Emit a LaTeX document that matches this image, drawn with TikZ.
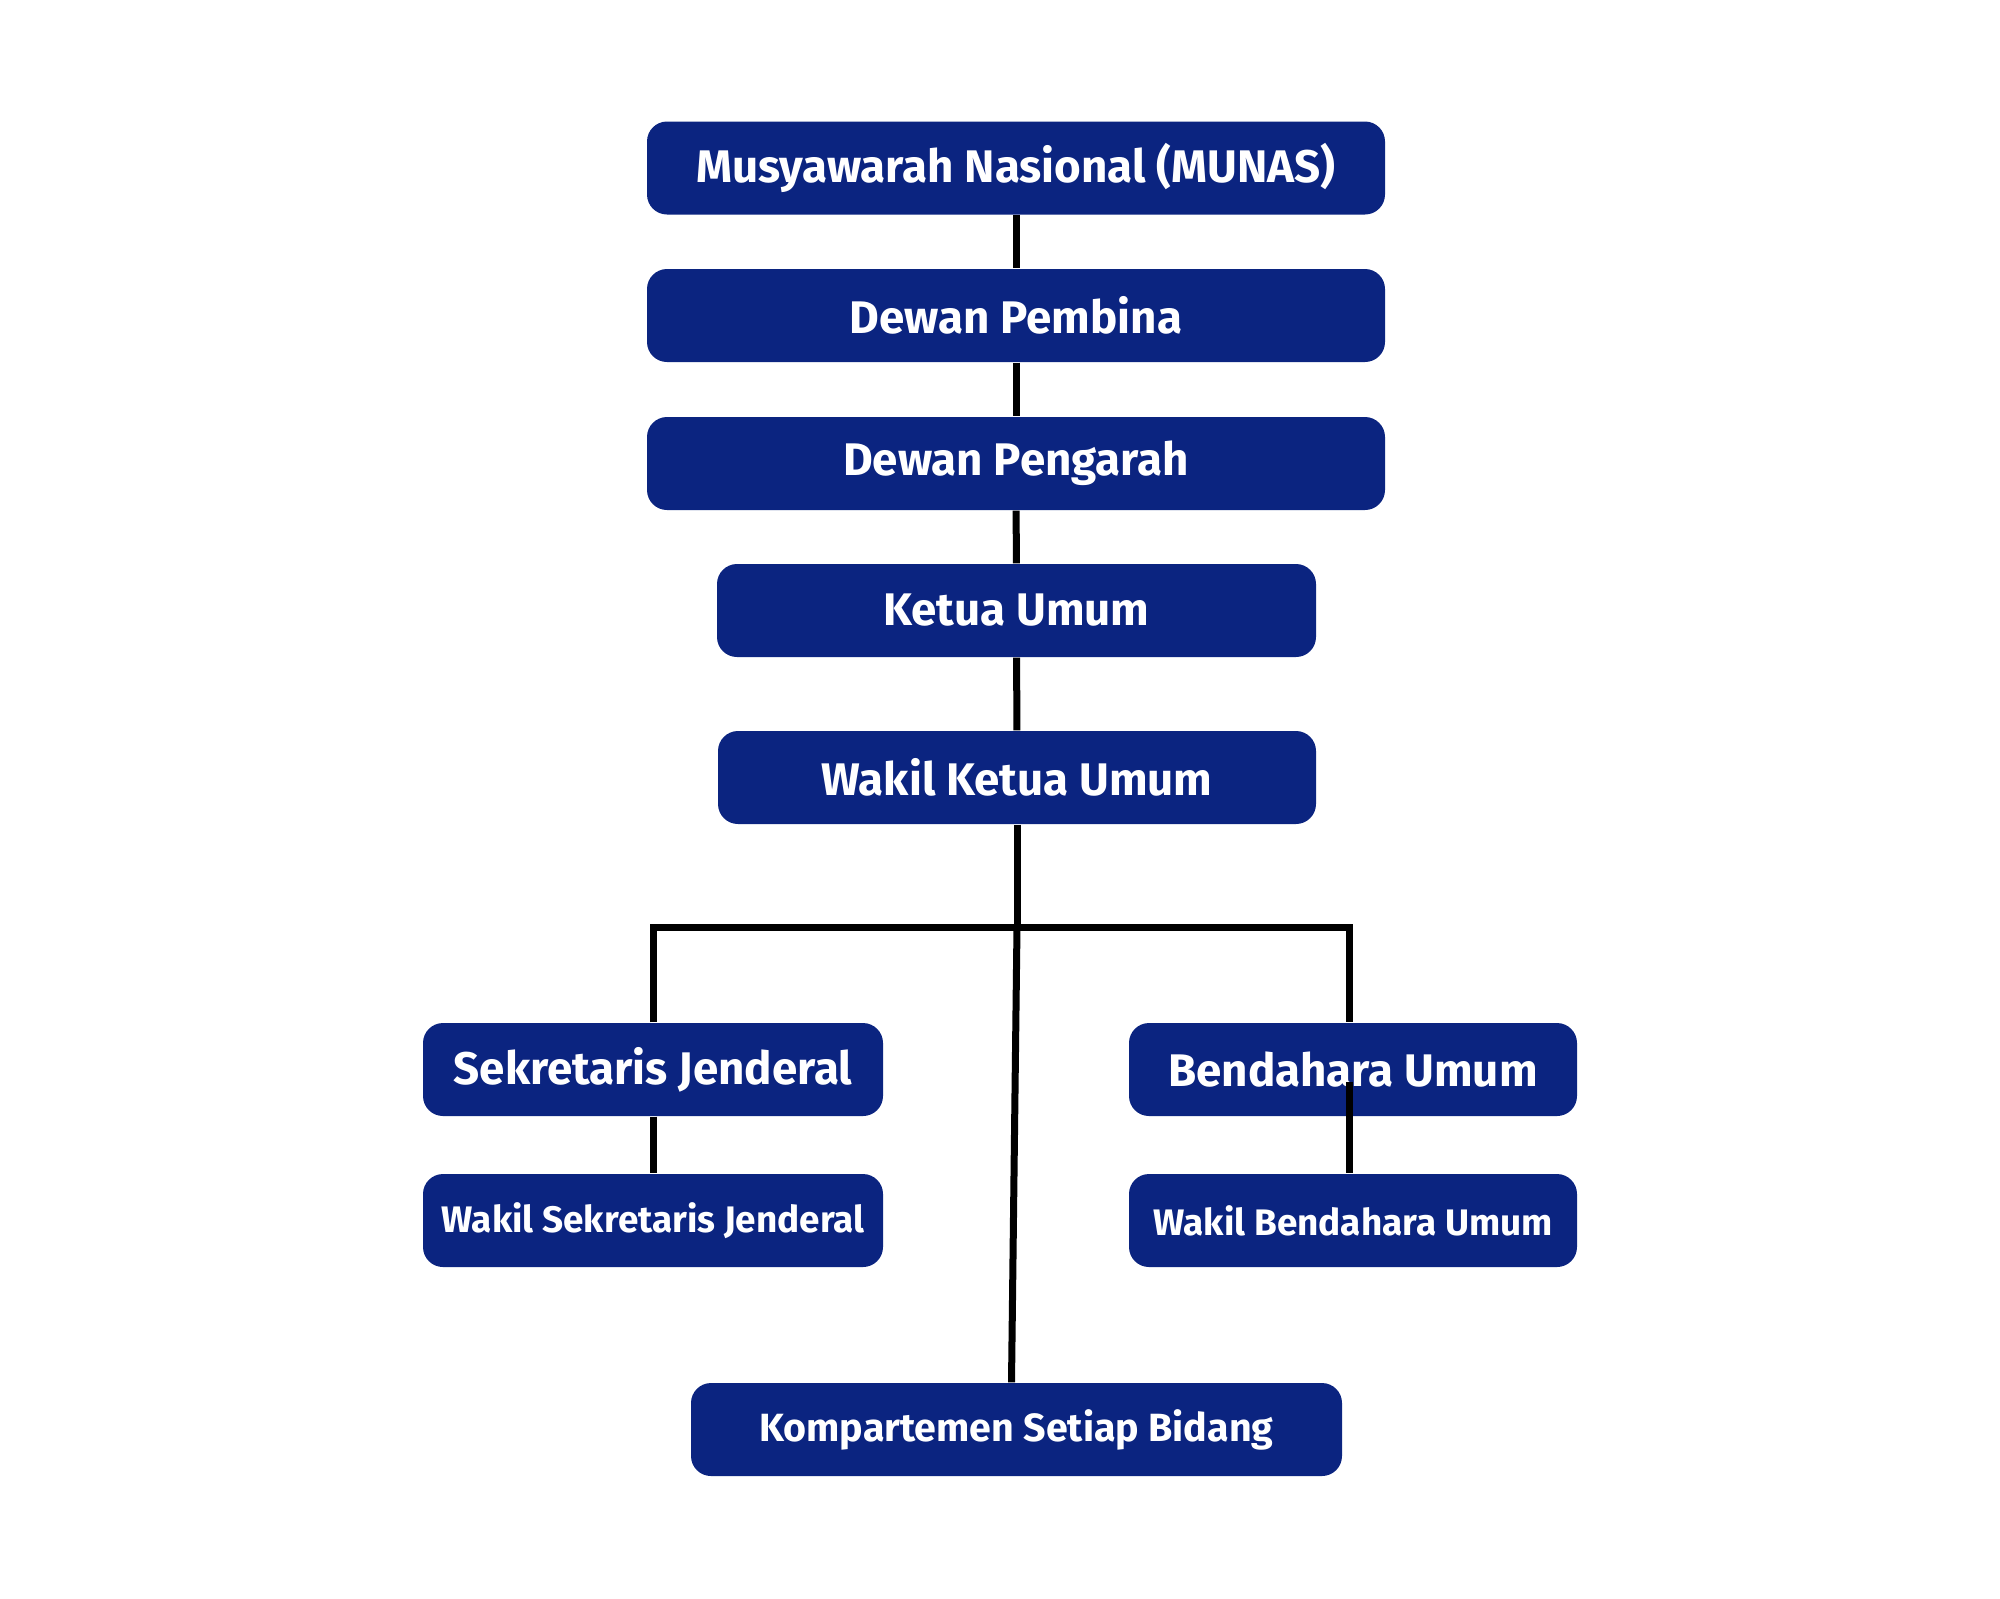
\documentclass[tikz,border=0pt]{standalone}
\usepackage{fontspec}
\setmainfont{Fira Sans}
\usepackage{tikz}
\usetikzlibrary{positioning, calc}
\definecolor{orgnavy}{RGB}{11,36,128}

\begin{document}
\begin{tikzpicture}[
  every node/.style = {font=\bfseries\fontsize{13}{15}\selectfont},
  orgbox/.style = {
    rectangle, rounded corners=0.2cm, fill=orgnavy, text=white,
    minimum width=#1, minimum height=0.93cm, inner sep=0pt,
    text centered, align=center
  },
  orgbox/.default = 7.38cm,
  link/.style = {line width=0.07cm, black}
]
\useasboundingbox (0,0) rectangle (20,-15.98);
%% ---- upper chain ----
\node[orgbox]        at (10.16,-1.68)  (munas)    {Musyawarah Nasional (MUNAS)};
\node[orgbox]        at (10.16,-3.155) (pembina)  {Dewan Pembina};
\node[orgbox]        at (10.16,-4.635) (pengarah) {Dewan Pengarah};
\node[orgbox=5.99cm] at (10.165,-6.105) (ketua)   {Ketua Umum};
\node[orgbox=5.98cm] at (10.17,-7.775) (waketum)  {Wakil Ketua Umum};
%% ---- branches ----
\node[orgbox=4.60cm, font=\bfseries\fontsize{13}{15}\selectfont]
      at (6.53,-10.695)  (sekjen)   {Sekretaris Jenderal};
\node[orgbox=4.48cm, font=\bfseries\fontsize{13}{15}\selectfont]
      at (13.53,-10.695) (bendum)   {Bendahara Umum};
\node[orgbox=4.60cm, font=\bfseries\fontsize{10.5}{12}\selectfont]
      at (6.53,-12.205)  (wasekjen) {Wakil Sekretaris Jenderal};
\node[orgbox=4.48cm, font=\bfseries\fontsize{10.5}{12}\selectfont]
      at (13.53,-12.205) (wabendum) {Wakil Bendahara Umum};
\node[orgbox=6.51cm, font=\bfseries\fontsize{11.2}{13}\selectfont]
      at (10.165,-14.295) (komp)    {Kompartemen Setiap Bidang};
\coordinate (bar)   at (10.17,-9.27);
\coordinate (bdtop) at ([xshift=-0.04cm]bendum.north);
\coordinate (bdin)  at ([xshift=-0.04cm,yshift=-0.12cm]bendum.center);
%% ---- connectors ----
\draw[link] (munas)    -- (pembina);
\draw[link] (pembina)  -- (pengarah);
\draw[link] (pengarah) -- (ketua);
\draw[link] (ketua)    -- (waketum);
\draw[link] (waketum)  -- (bar);
\draw[link] (sekjen.north) |- (bar) -| (bdtop);
\draw[link] (bar) -- ([xshift=-0.05cm]komp.north);
\draw[link] (sekjen)   -- (wasekjen);
\draw[link] (bdin)     -- (bdin |- wabendum.north);
\end{tikzpicture}
\end{document}
